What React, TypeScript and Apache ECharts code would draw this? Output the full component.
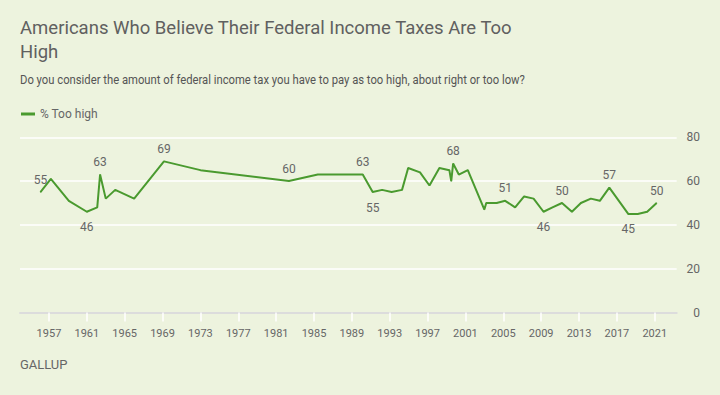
import React, { useEffect, useRef } from "react";
import * as echarts from "echarts";

const years = [
  1956.1, 1957.2, 1959.1, 1961.0, 1962.1, 1962.4, 1963.0, 1964.0, 1966.0, 1969.15,
  1973.0, 1982.35, 1985.4, 1990.15, 1991.2, 1992.2, 1993.2, 1994.3, 1994.95, 1996.2,
  1997.2, 1998.25, 1999.3, 1999.5, 1999.7, 2000.3, 2001.25, 2003.0, 2003.2, 2004.3,
  2005.2, 2006.25, 2007.2, 2008.2, 2009.25, 2010.2, 2011.2, 2012.25, 2013.2, 2014.25,
  2015.2, 2016.2, 2018.2, 2019.2, 2020.2, 2021.2,
];
const tooHigh = [
  55, 61, 51, 46, 48, 63, 52, 56, 52, 69,
  65, 60, 63, 63, 55, 56, 55, 56, 66, 64,
  58, 66, 65, 60, 68, 63, 65, 47, 50, 50,
  51, 48, 53, 52, 46, 48, 50, 46, 50, 52,
  51, 57, 45, 45, 46, 50,
];
// indices of labeled points
const labelsAbove = [0, 5, 9, 11, 13, 24, 30, 36, 41, 45];
const labelsBelow = [3, 14, 34, 42];

const xTickYears = [1957, 1961, 1965, 1969, 1973, 1977, 1981, 1985, 1989, 1993, 1997, 2001, 2005, 2009, 2013, 2017, 2021];

const titleLines = ["Americans Who Believe Their Federal Income Taxes Are Too", "High"];
const subtitle = "Do you consider the amount of federal income tax you have to pay as too high, about right or too low?";
const seriesName = "% Too high";
const source = "GALLUP";

const GREEN = "#4a9a2f";
const TEXT = "#666666";
const FONT = "Roboto";

export default function App() {
  const ref = useRef<HTMLDivElement>(null);
  useEffect(() => {
    document.body.style.margin = "0";
    if (!ref.current) return;
    const chart = echarts.init(ref.current, undefined, { renderer: "svg" });
    const data = years.map((y, i) => {
      const item: any = { value: [y, tooHigh[i]] };
      if (labelsAbove.includes(i)) item.label = { show: true, position: "top", distance: 6 };
      if (labelsBelow.includes(i)) item.label = { show: true, position: "bottom", distance: 9 };
      return item;
    });
    chart.setOption({
      animation: false,
      backgroundColor: "#edf3de",
      textStyle: { fontFamily: FONT },
      grid: { left: 20, right: 43.3, top: 137.3, bottom: 82.5 },
      legend: {
        left: 16,
        top: 103,
        icon: "rect",
        itemWidth: 14,
        itemHeight: 3,
        itemGap: 10,
        textStyle: { color: TEXT, fontSize: 12, fontFamily: FONT },
        data: [seriesName],
      },
      xAxis: {
        type: "value",
        min: 1953.94,
        max: 2023.32,
        axisLine: { lineStyle: { color: "#dcdcdc", width: 2 } },
        axisTick: { customValues: xTickYears, length: 9, lineStyle: { color: "#ffffff", width: 1.5 } },
        axisLabel: {
          customValues: xTickYears,
          margin: 15,
          color: TEXT,
          fontSize: 11,
          fontFamily: FONT,
          formatter: (v: number) => String(v),
        },
        splitLine: { show: false },
      },
      yAxis: {
        type: "value",
        position: "right",
        min: 0,
        max: 80,
        interval: 20,
        axisLine: { show: false },
        axisTick: { show: false },
        axisLabel: { align: "right", margin: 23.3, color: TEXT, fontSize: 12, fontFamily: FONT },
        splitLine: { lineStyle: { color: "#ffffff", width: 1.5 } },
      },
      series: [
        {
          name: seriesName,
          type: "line",
          data,
          symbol: "circle",
          symbolSize: 1,
          itemStyle: { color: GREEN },
          lineStyle: { color: GREEN, width: 2 },
          label: { show: false, color: TEXT, fontSize: 12, fontFamily: FONT },
          emphasis: { disabled: true },
        },
      ],
      graphic: [
        {
          type: "text",
          x: 20,
          y: 27.5,
          scaleX: 0.975,
          style: { text: titleLines[0], fill: "#606060", font: `19px ${FONT}`, verticalAlign: "middle" },
        },
        {
          type: "text",
          x: 20,
          y: 51.8,
          scaleX: 0.975,
          style: { text: titleLines[1], fill: "#606060", font: `19px ${FONT}`, verticalAlign: "middle" },
        },
        {
          type: "text",
          x: 20,
          y: 79.5,
          scaleX: 0.94,
          style: { text: subtitle, fill: "#555555", font: `12px ${FONT}`, verticalAlign: "middle" },
        },
        {
          type: "text",
          x: 20,
          y: 365,
          scaleX: 1.08,
          style: { text: source, fill: TEXT, font: `12px ${FONT}`, verticalAlign: "middle" },
        },
      ],
    });
    return () => chart.dispose();
  }, []);
  return <div ref={ref} style={{ width: 720, height: 395 }} />;
}
